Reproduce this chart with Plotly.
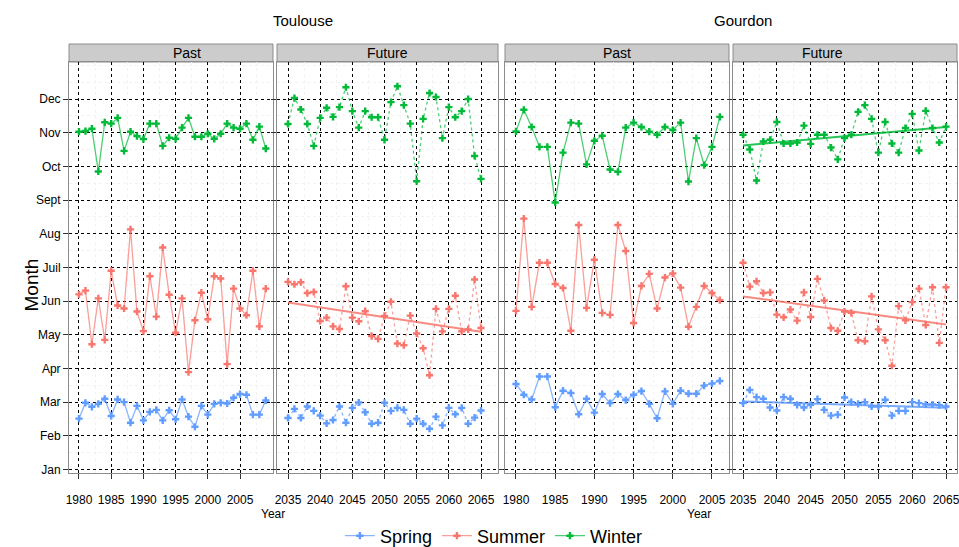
import numpy as np
import plotly.graph_objects as go

# month ticks
month_vals = [1, 2, 3, 4, 5, 6, 7, 8, 9, 10, 11, 12]
month_labels = ['Jan', 'Feb', 'Mar', 'Apr', 'May', 'Jun', 'Juil', 'Aug', 'Sept', 'Oct', 'Nov', 'Dec']

years_past_tls = list(range(1980, 2010))
years_past_gdn = list(range(1980, 2007))
years_future = list(range(2035, 2066))

# Toulouse - past
tls_past_spring = [2.51, 2.98, 2.86, 2.95, 3.10, 2.59, 3.08, 3.00, 2.39, 2.89, 2.46, 2.71, 2.77, 2.46, 2.76,
                   2.49, 3.08, 2.57, 2.27, 2.89, 2.63, 2.95, 2.98, 2.96, 3.13, 3.24, 3.22, 2.63, 2.63, 3.05]
tls_past_summer = [6.20, 6.31, 4.72, 6.08, 4.85, 6.90, 5.87, 5.78, 8.13, 5.69, 5.11, 6.74, 5.54, 7.59, 6.19,
                   5.06, 6.08, 3.89, 5.43, 6.25, 5.46, 6.74, 6.67, 4.13, 6.37, 5.78, 5.58, 6.90, 5.25, 6.37]
tls_past_winter = [11.03, 11.05, 11.12, 9.85, 11.31, 11.27, 11.44, 10.46, 11.03, 10.90, 10.81, 11.27, 11.27,
                   10.61, 10.85, 10.82, 11.15, 11.44, 10.88, 10.88, 10.97, 10.82, 10.97, 11.27, 11.15, 11.12,
                   11.27, 10.79, 11.18, 10.53]

# Toulouse - future
tls_fut_spring = [2.53, 2.80, 2.53, 2.87, 2.74, 2.60, 2.37, 2.47, 2.87, 2.39, 2.83, 2.99, 2.70, 2.36, 2.39, 2.98,
                  2.74, 2.83, 2.77, 2.36, 2.51, 2.36, 2.21, 2.57, 2.31, 2.83, 2.64, 2.83, 2.36, 2.54, 2.75]
tls_fut_summer = [6.57, 6.50, 6.56, 6.24, 6.27, 5.41, 5.51, 5.25, 5.17, 6.44, 5.51, 5.40, 5.70, 4.96, 4.88, 5.56,
                  5.98, 4.74, 4.69, 5.57, 5.04, 4.60, 3.80, 5.77, 5.10, 5.77, 6.16, 5.10, 5.16, 6.64, 5.20]
tls_fut_winter = [11.26, 12.03, 11.69, 11.26, 10.61, 11.44, 11.74, 11.47, 11.76, 12.35, 11.64, 11.15, 11.64,
                  11.46, 11.46, 10.79, 11.91, 12.38, 11.82, 11.27, 9.56, 11.41, 12.18, 12.06, 10.84, 11.76,
                  11.46, 11.64, 12.00, 10.31, 9.63]

# Gourdon - past
gdn_past_spring = [3.54, 3.22, 3.08, 3.76, 3.76, 2.85, 3.34, 3.27, 2.64, 3.10, 2.69, 3.24, 2.97, 3.24, 3.06,
                   3.22, 3.33, 2.95, 2.52, 3.32, 2.95, 3.34, 3.25, 3.25, 3.49, 3.55, 3.63]
gdn_past_summer = [5.71, 8.45, 5.83, 7.14, 7.14, 6.51, 6.39, 5.12, 8.26, 5.80, 7.23, 5.65, 5.59, 8.26, 7.49,
                   5.35, 6.45, 6.81, 5.78, 6.70, 6.82, 6.40, 5.24, 5.83, 6.45, 6.24, 6.03]
gdn_past_winter = [11.04, 11.68, 11.17, 10.58, 10.58, 8.93, 10.41, 11.30, 11.27, 10.06, 10.76, 10.91, 9.91,
                   9.84, 11.15, 11.30, 11.17, 11.03, 10.94, 11.17, 11.08, 11.30, 9.55, 10.84, 10.04, 10.58, 11.47]

# Gourdon - future
gdn_fut_spring = [2.97, 3.36, 3.15, 3.10, 2.84, 2.75, 3.15, 3.10, 2.92, 2.84, 2.92, 3.09, 2.77, 2.60, 2.63, 3.14,
                  3.00, 2.95, 3.00, 2.87, 2.87, 3.07, 2.60, 2.74, 2.74, 3.00, 2.97, 2.93, 2.93, 2.91, 2.87]
gdn_fut_summer = [7.14, 6.43, 6.59, 6.24, 6.26, 5.60, 5.52, 5.75, 5.42, 6.26, 5.53, 6.66, 6.02, 5.20, 5.12, 5.69,
                  5.65, 4.84, 4.81, 6.14, 5.16, 4.84, 4.08, 5.85, 5.43, 5.97, 6.37, 5.29, 6.41, 4.76, 6.41]
gdn_fut_winter = [10.94, 10.50, 9.58, 10.74, 10.79, 11.32, 10.68, 10.68, 10.71, 11.21, 10.67, 10.94, 10.94,
                  10.56, 10.21, 10.84, 10.94, 11.62, 11.82, 11.41, 10.41, 11.32, 10.68, 10.41, 11.14, 11.56,
                  10.47, 11.65, 11.14, 10.71, 11.18]

colors = {'Spring': '#619CFF', 'Summer': '#F8766D', 'Winter': '#00BA38'}
fade = {'Spring': 'rgba(97,156,255,0.75)', 'Summer': 'rgba(248,118,109,0.7)', 'Winter': 'rgba(0,186,56,0.7)'}

W, H = 959, 547
top_px, bot_px = 62, 473
ydom = [1 - bot_px / H, 1 - top_px / H]

panels = [
    dict(px=(69, 273), xr=[1978.45, 2010.12], years=years_past_tls, ticks=list(range(1980, 2006, 5)),
         data={'Spring': tls_past_spring, 'Summer': tls_past_summer, 'Winter': tls_past_winter},
         future=False, trend=[], strip='Past'),
    dict(px=(277, 498), xr=[2033.29, 2067.64], years=years_future, ticks=list(range(2035, 2066, 5)),
         data={'Spring': tls_fut_spring, 'Summer': tls_fut_summer, 'Winter': tls_fut_winter},
         future=True, trend=['Summer'], strip='Future'),
    dict(px=(505, 729), xr=[1978.6, 2007.17], years=years_past_gdn, ticks=list(range(1980, 2006, 5)),
         data={'Spring': gdn_past_spring, 'Summer': gdn_past_summer, 'Winter': gdn_past_winter},
         future=False, trend=[], strip='Past'),
    dict(px=(733, 957), xr=[2033.52, 2066.62], years=years_future, ticks=list(range(2035, 2066, 5)),
         data={'Spring': gdn_fut_spring, 'Summer': gdn_fut_summer, 'Winter': gdn_fut_winter},
         future=True, trend=['Spring', 'Summer', 'Winter'], strip='Future'),
]

font_main = 'Liberation Sans, Arial, sans-serif'
font_narrow = 'Liberation Sans Narrow, Liberation Sans, sans-serif'

fig = go.Figure()
shapes, annotations = [], []
layout_axes = {}

for i, p in enumerate(panels):
    n = i + 1
    xa = 'x' if n == 1 else f'x{n}'
    ya = 'y' if n == 1 else f'y{n}'
    for season in ['Spring', 'Summer', 'Winter']:
        fig.add_trace(go.Scatter(
            x=p['years'], y=p['data'][season], name=season, mode='lines+markers',
            line=dict(color=fade[season], width=1.3, dash='dot' if p['future'] else 'solid'),
            marker=dict(symbol='cross', size=6, color=colors[season]),
            legendgroup=season, showlegend=(n == 1), xaxis=xa, yaxis=ya))
        if season in p['trend']:
            yrs = np.array(p['years'])
            k, b = np.polyfit(yrs, np.array(p['data'][season]), 1)
            fig.add_trace(go.Scatter(
                x=[yrs[0], yrs[-1]], y=[k * yrs[0] + b, k * yrs[-1] + b], mode='lines',
                line=dict(color=colors[season], width=2), opacity=0.85,
                legendgroup=season, showlegend=False, hoverinfo='skip', xaxis=xa, yaxis=ya))

    x0, x1 = p['px']
    dom = [x0 / W, x1 / W]
    common = dict(showline=True, linecolor='#8c8c8c', linewidth=1, mirror=True,
                  showgrid=True, gridcolor='black', griddash='dot', gridwidth=1,
                  zeroline=False, ticks='outside', ticklen=5, tickcolor='#333333',
                  ticklabeloverflow='allow', automargin=False,
                  tickfont=dict(family=font_main, size=12, color='black'))
    layout_axes['xaxis' if n == 1 else f'xaxis{n}'] = dict(
        domain=dom, range=p['xr'], anchor=ya, tickvals=p['ticks'], ticklabelstandoff=11,
        minor=dict(dtick=2.5, tick0=1977.5, showgrid=True, gridcolor='#f2f2f2', gridwidth=1), **common)
    layout_axes['yaxis' if n == 1 else f'yaxis{n}'] = dict(
        domain=ydom, range=[0.896, 13.1], anchor=xa, tickvals=month_vals,
        ticktext=month_labels, showticklabels=(n == 1),
        minor=dict(dtick=0.5, tick0=0.5, showgrid=True, gridcolor='#f2f2f2', gridwidth=1), **common)

    # strip header
    shapes.append(dict(type='rect', xref='paper', yref='paper', x0=x0 / W, x1=x1 / W,
                       y0=1 - 62 / H, y1=1 - 44 / H, fillcolor='#cccccc',
                       line=dict(color='#8c8c8c', width=1), layer='below'))
    annotations.append(dict(text=p['strip'], x=(x0 + x1) / 2 / W, y=1 - 53 / H, xref='paper', yref='paper',
                            yanchor='middle', showarrow=False,
                            font=dict(family=font_narrow, size=14, color='black')))

annotations += [
    dict(text='Toulouse', x=271 / W, y=1 - 20 / H, xref='paper', yref='paper', showarrow=False,
         yanchor='middle', font=dict(family=font_narrow, size=15, color='black')),
    dict(text='Gourdon', x=774 / W, y=1 - 20 / H, xref='paper', yref='paper', showarrow=False,
         yanchor='middle', font=dict(family=font_narrow, size=15, color='black')),
    dict(text='Year', x=259 / W, y=1 - 514 / H, xref='paper', yref='paper', showarrow=False,
         yanchor='middle', font=dict(family=font_main, size=12, color='black')),
    dict(text='Year', x=713 / W, y=1 - 514 / H, xref='paper', yref='paper', showarrow=False,
         yanchor='middle', font=dict(family=font_main, size=12, color='black')),
    dict(text='Month', x=18 / W, y=1 - 285 / H, xref='paper', yref='paper', showarrow=False,
         textangle=-90, font=dict(family=font_main, size=19, color='black')),
]

fig.update_layout(
    width=W, height=H, margin=dict(l=0, r=0, t=0, b=0, autoexpand=False),
    paper_bgcolor='white', plot_bgcolor='white',
    shapes=shapes, annotations=annotations,
    legend=dict(orientation='h', x=0.515, xanchor='center', y=1 - 536 / H, yanchor='middle',
                font=dict(family=font_main, size=18, color='black'), itemwidth=30),
    **layout_axes)

fig.write_html("out.html", config={'displayModeBar': False},
               post_script="document.body.style.margin='0';")
